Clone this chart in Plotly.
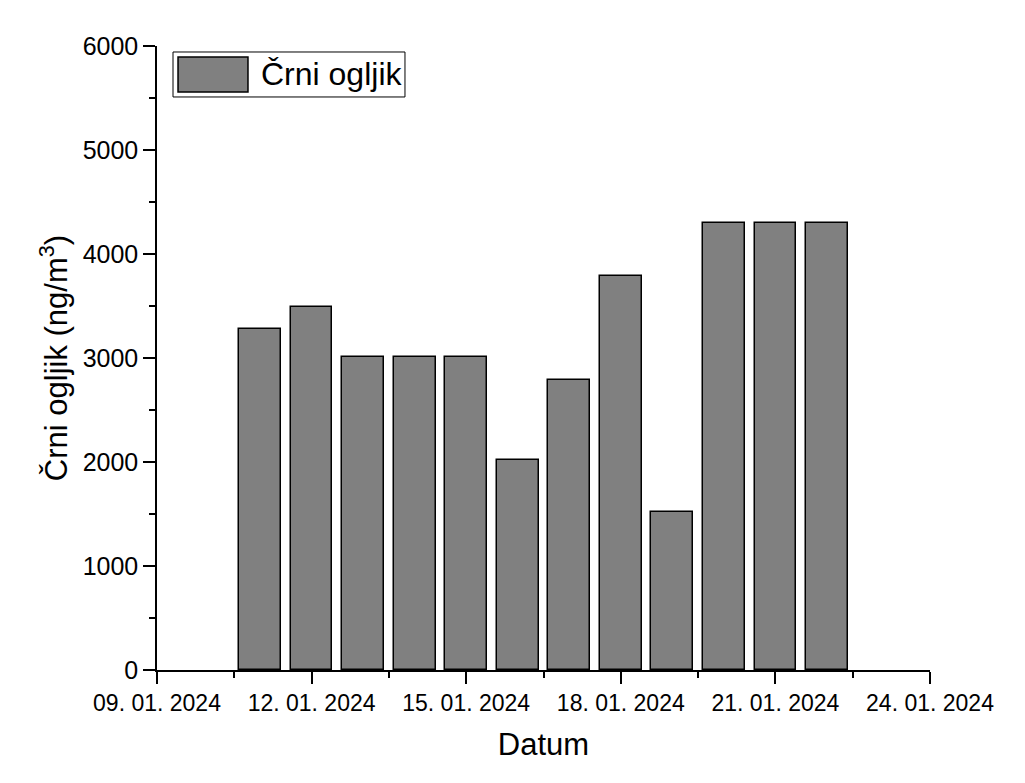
import plotly.graph_objects as go

dates = ["2024-01-11", "2024-01-12", "2024-01-13", "2024-01-14", "2024-01-15", "2024-01-16",
         "2024-01-17", "2024-01-18", "2024-01-19", "2024-01-20", "2024-01-21", "2024-01-22"]
values = [3275, 3495, 3005, 3005, 3005, 2015, 2790, 3790, 1520, 4300, 4300, 4300]
series_name = "Črni ogljik"
x_title = "Datum"
y_title = "Črni ogljik (ng/m<sup>3</sup>)"

DAY = 86400000
FONT = "Liberation Sans, Arial, sans-serif"

fig = go.Figure()
fig.add_trace(go.Bar(
    x=dates, y=values, name=series_name,
    width=[0.81 * DAY] * len(dates),
    marker=dict(color="#808080", line=dict(color="#000000", width=1.5)),
    showlegend=False,
))

# legend drawn as box + swatch + text
fig.add_shape(type="rect", xref="paper", yref="paper", x0=0.0207, x1=0.3208, y0=0.9183, y1=0.9904,
              line=dict(color="#000000", width=1), fillcolor="white", layer="above")
fig.add_shape(type="rect", xref="paper", yref="paper", x0=0.0272, x1=0.1177, y0=0.9263, y1=0.9824,
              line=dict(color="#000000", width=1.5), fillcolor="#808080", layer="above")
fig.add_annotation(xref="paper", yref="paper", x=0.1315, y=0.9544, xanchor="left", yanchor="middle",
                   text=series_name, showarrow=False, font=dict(family=FONT, size=32, color="#000"))

fig.update_layout(
    width=1025, height=783,
    margin=dict(l=149, r=103, t=38, b=120.5),
    paper_bgcolor="white", plot_bgcolor="white",
    font=dict(family=FONT, color="#000"),
    bargap=0,
)
fig.update_xaxes(
    type="date", range=["2024-01-09", "2024-01-24"],
    tick0="2024-01-09", dtick=3 * DAY, tickformat="%d. %m. %Y",
    ticks="outside", ticklen=12, tickwidth=1.5, tickcolor="#000",
    minor=dict(dtick=1.5 * DAY, tick0="2024-01-09", ticks="outside", ticklen=6, tickwidth=1.5, tickcolor="#000", showgrid=False),
    showline=True, linecolor="#000", linewidth=1.5, showgrid=False, zeroline=False,
    tickfont=dict(family=FONT, size=23, color="#000"),
    title=dict(text=x_title, font=dict(family=FONT, size=31, color="#000"), standoff=18),
)
fig.update_yaxes(
    range=[0, 6000], dtick=1000, tick0=0,
    ticks="outside", ticklen=12, tickwidth=1.5, tickcolor="#000",
    minor=dict(dtick=500, ticks="outside", ticklen=6, tickwidth=1.5, tickcolor="#000", showgrid=False),
    showline=True, linecolor="#000", linewidth=1.5, showgrid=False, zeroline=False,
    tickfont=dict(family=FONT, size=25, color="#000"),
    title=dict(text=y_title, font=dict(family=FONT, size=31, color="#000"), standoff=6),
)

fig.write_html("out.html")
